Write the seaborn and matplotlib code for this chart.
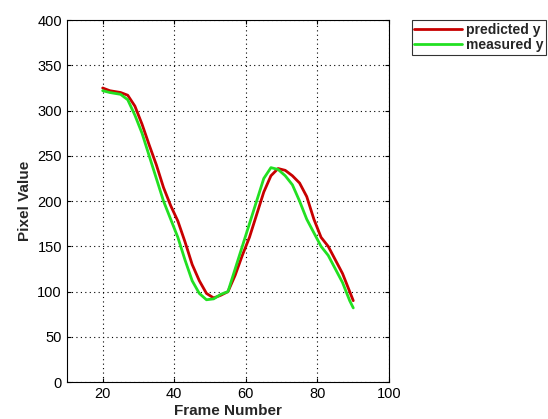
import numpy as np
import pandas as pd
import matplotlib
matplotlib.use("Agg")
import matplotlib.pyplot as plt
import seaborn as sns

frames = [20, 22, 25, 27, 29, 31, 33, 35, 37, 39, 41, 43, 45, 47, 49, 51, 53, 55,
          57, 59, 61, 63, 65, 67, 69, 71, 73, 75, 77, 79, 81, 83, 85, 87, 89, 90]
predicted_y = [325, 322, 320, 317, 305, 285, 262, 240, 215, 195, 178, 155, 130, 112, 98, 93, 96, 100,
               118, 140, 160, 185, 210, 228, 236, 234, 228, 220, 205, 180, 160, 150, 135, 120, 100, 90]
measured_y = [322, 320, 318, 312, 295, 275, 250, 225, 200, 180, 160, 135, 112, 98, 91, 92, 97, 100,
              125, 150, 175, 200, 225, 237, 235, 228, 218, 200, 180, 165, 150, 140, 125, 110, 90, 82]
series_names = ["predicted y", "measured y"]
x_ticks = [20, 40, 60, 80, 100]
y_ticks = [0, 50, 100, 150, 200, 250, 300, 350, 400]

df = pd.DataFrame({
    "Frame Number": frames * 2,
    "Pixel Value": predicted_y + measured_y,
    "series": [series_names[0]] * len(frames) + [series_names[1]] * len(frames),
})

sns.set_style("white")
plt.rcParams["font.family"] = ["Liberation Sans", "DejaVu Sans"]

fig = plt.figure(figsize=(5.48, 4.19), dpi=100)
ax = fig.add_axes([0.122, 0.088, 0.588, 0.864])
sns.lineplot(data=df, x="Frame Number", y="Pixel Value", hue="series",
             palette={series_names[0]: "#c80000", series_names[1]: "#22e022"},
             linewidth=2, ax=ax, legend=True)
ax.set_xlim(10, 100)
ax.set_ylim(0, 400)
ax.set_xticks(x_ticks)
ax.set_yticks(y_ticks)
ax.grid(True, linestyle=(0, (1, 3)), color="black", linewidth=0.8)
for s in ax.spines.values():
    s.set_color("black")
    s.set_linewidth(0.8)
ax.tick_params(axis="both", labelsize=10.5, length=3, direction="in", colors="black",
               bottom=True, left=True, top=True, right=True)
ax.set_xlabel("Frame Number", fontsize=11, fontweight="bold", labelpad=2)
ax.set_ylabel("Pixel Value", fontsize=11, fontweight="bold", labelpad=4)
leg = ax.legend(loc="upper left", bbox_to_anchor=(1.07, 1.0), frameon=True,
                fancybox=False, borderaxespad=0, handlelength=3.4,
                prop={"weight": "bold", "size": 10}, borderpad=0.2, labelspacing=0.1,
                handletextpad=0.3)
leg.get_frame().set_edgecolor("black")
leg.get_frame().set_linewidth(0.8)
fig.savefig("out.png", dpi=100)
